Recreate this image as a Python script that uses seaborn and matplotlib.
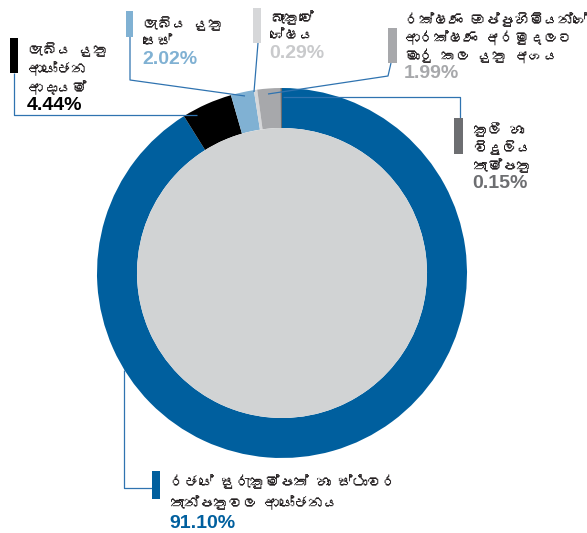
import matplotlib
matplotlib.use("Agg")
import matplotlib.pyplot as plt
from matplotlib import font_manager
from matplotlib.patches import Circle, Rectangle
import seaborn as sns

# ---- data -------------------------------------------------------------
categories = [
    "රජයේ සුරැකුම්පත් හා ස්ථාවර\nතැන්පතුවල ආයෝජනය",
    "ලැබිය යුතු\nආයෝජන\nආදායම්",
    "ලැබිය යුතු\nසෙස්",
    "බැංකුවේ\nශේෂය",
    "රක්ෂණ ඔප්පුහිමියන්ගේ\nආරක්ෂණ අරමුදලට\nමාරු කල යුතු අගය",
    "කුලී හා\nවිදුලිය\nතැම්පතු",
]
shares = [91.10, 4.44, 2.02, 0.29, 1.99, 0.15]
slice_colors = ["#005f9e", "#000000", "#80b1d3", "#d6d7d9", "#a7a8ab", "#6d6e71"]
pct_colors = ["#005f9e", "#000000", "#80b1d3", "#c9cacc", "#a7a8ab", "#6d6e71"]

# ---- canvas (pixel space, y measured downwards via Y()) ---------------
W, H = 587, 533
sns.set_theme(style="white")


def sinhala_family():
    """Return an installed family that has Sinhala glyphs, if any."""
    try:
        from fontTools.ttLib import TTFont
    except Exception:
        return None
    for entry in font_manager.fontManager.ttflist:
        try:
            tt = TTFont(entry.fname, fontNumber=0, lazy=True)
            cmap = tt.getBestCmap() or {}
            if 0x0DBD in cmap and 0x0DCA in cmap:
                return entry.name
        except Exception:
            continue
    return None


si = sinhala_family()
text_family = ([si] if si else []) + ["DejaVu Sans"]
plt.rcParams["font.family"] = text_family


def Y(y):
    return H - y


fig = plt.figure(figsize=(W / 100, H / 100), dpi=100)
ax = fig.add_axes([0, 0, 1, 1])

cx, cy, r_out, ring = 282, 273, 185, 40
ax.pie(
    shares,
    colors=slice_colors,
    startangle=90,
    counterclock=False,
    radius=r_out,
    center=(cx, Y(cy)),
    wedgeprops=dict(width=ring, linewidth=0),
)
ax.add_patch(Circle((cx, Y(cy)), r_out - ring, facecolor="#d1d3d4",
                    edgecolor="none", zorder=2))

# ---- callouts ----------------------------------------------------------
line_color = "#2f73b0"
text_color = "#231f20"

callouts = [
    # bar (x0, y0, x1, y1), text x, first line y, line step, leader path
    dict(bar=(152, 471, 160, 499), tx=170, ty=482, step=21,
         path=[(124, 370), (124, 488), (152, 488)]),
    dict(bar=(10, 38, 18, 73), tx=28, ty=50, step=19,
         path=[(197, 115), (14, 115), (14, 73)]),
    dict(bar=(126, 11, 133, 37), tx=143, ty=24, step=18,
         path=[(245, 96), (130, 80), (130, 37)]),
    dict(bar=(253, 8, 261, 43), tx=270, ty=18, step=18,
         path=[(254, 92), (258, 43)]),
    dict(bar=(388, 28, 397, 63), tx=405, ty=20, step=18,
         path=[(268, 94), (388, 76), (391, 63)]),
    dict(bar=(454, 118, 463, 154), tx=473, ty=130, step=18,
         path=[(283, 97), (460, 97), (460, 118)]),
]

for name, val, bc, pc, c in zip(categories, shares, slice_colors, pct_colors, callouts):
    xs = [p[0] for p in c["path"]]
    ys = [Y(p[1]) for p in c["path"]]
    ax.plot(xs, ys, color=line_color, lw=0.9, zorder=4, solid_capstyle="butt")
    x0, y0, x1, y1 = c["bar"]
    ax.add_patch(Rectangle((x0, Y(y1)), x1 - x0, y1 - y0, facecolor=bc,
                           edgecolor="none", zorder=5))
    lines = name.split("\n")
    for i, ln in enumerate(lines):
        ax.text(c["tx"], Y(c["ty"] + i * c["step"]), ln, fontsize=10.5,
                color=text_color, va="center", ha="left", zorder=6,
                family=text_family)
    py = c["ty"] + len(lines) * c["step"] - 1
    ax.text(c["tx"] - 1, Y(py), f"{val:.2f}%", fontsize=14, fontweight="bold",
            color=pc, va="center", ha="left", zorder=6,
            family=["Liberation Sans", "DejaVu Sans"])

ax.set_xlim(0, W)
ax.set_ylim(0, H)
ax.set_aspect("equal")
ax.set_axis_off()
fig.savefig("out.png", dpi=100, facecolor="white")
